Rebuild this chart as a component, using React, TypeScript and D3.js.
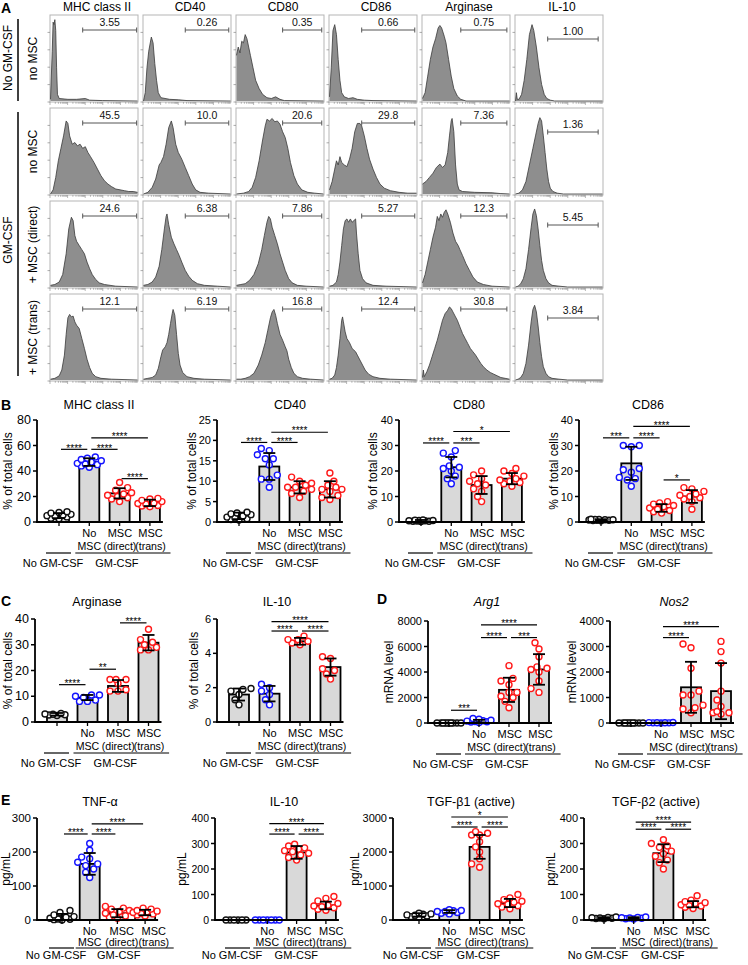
import React from "react";
import * as d3 from "d3";

const FONT = "'Liberation Sans', Arial, Helvetica, sans-serif";

/* ================= Panel A : flow histograms ================= */
const histMarkers = ["MHC class II", "CD40", "CD80", "CD86", "Arginase", "IL-10"];
const histRowLabels = ["no MSC", "no MSC", "+ MSC (direct)", "+ MSC (trans)"];
const gateNoGM = ["3.55", "0.26", "0.35", "0.66", "0.75", "1.00"];
const gateGM = ["45.5", "10.0", "20.6", "29.8", "7.36", "1.36"];
const gateDirect = ["24.6", "6.38", "7.86", "5.27", "12.3", "5.45"];
const gateTrans = ["12.1", "6.19", "16.8", "12.4", "30.8", "3.84"];
const gateStart = [37, 48, 53, 37, 44, 37];
const gateEnd = [99, 98, 98, 98, 97, 95];

type P = [number, number];
// [% of axis width, % of max height]
const histNoGM: P[][] = [
  [[0,2],[2,60],[3,95],[4,92],[5,98],[6,85],[7,40],[8,8],[10,3],[20,2],[30,2],[40,3],[45,1],[60,0.5],[100,0]],
  [[0,0],[2,10],[4,40],[6,60],[9,77],[11,70],[13,45],[15,25],[17,10],[20,4],[30,2],[40,1.5],[50,0.5],[100,0]],
  [[0,55],[2,65],[4,58],[6,72],[8,70],[10,80],[12,75],[14,65],[16,55],[19,40],[22,25],[26,15],[30,8],[35,4],[40,3],[45,5],[50,2],[55,0.5],[100,0]],
  [[0,5],[2,40],[4,85],[6,92],[8,80],[10,50],[12,25],[14,10],[17,5],[22,3],[27,4],[32,2],[40,1],[50,0.5],[100,0]],
  [[0,3],[3,10],[6,30],[9,50],[12,65],[15,75],[18,88],[20,91],[22,88],[25,78],[27,70],[30,50],[33,30],[36,15],[40,6],[44,2],[50,0],[100,0]],
  [[0,0],[1,10],[2,2],[4,2],[7,8],[10,25],[13,50],[16,80],[19,92],[21,85],[24,65],[27,40],[30,20],[33,8],[36,3],[40,1],[45,0],[100,0]],
];
const histGM: P[][] = [
  [[0,0],[3,5],[6,20],[9,40],[12,55],[15,70],[18,88],[20,85],[22,70],[25,60],[28,62],[31,58],[34,60],[37,55],[40,57],[43,50],[46,45],[50,38],[54,30],[58,22],[62,16],[66,12],[70,9],[75,6],[80,5],[85,4],[90,3],[95,3],[100,2]],
  [[0,0],[5,2],[10,8],[14,18],[18,35],[20,38],[23,45],[26,60],[29,80],[32,88],[34,80],[37,60],[40,50],[44,42],[48,32],[52,22],[56,12],[60,5],[65,2],[75,1],[100,0]],
  [[0,0],[8,1],[14,3],[18,8],[22,20],[26,40],[30,65],[33,82],[35,90],[38,88],[41,91],[44,87],[47,88],[50,84],[53,75],[56,68],[59,55],[62,38],[66,22],[70,12],[75,5],[82,2],[90,1],[100,0]],
  [[0,5],[3,15],[6,30],[8,40],[10,35],[12,45],[14,38],[17,35],[20,33],[23,42],[26,55],[29,75],[32,85],[35,85],[37,82],[40,70],[43,55],[46,42],[50,30],[54,20],[58,12],[63,7],[70,4],[80,2],[90,1],[100,1]],
  [[0,12],[4,15],[8,20],[12,25],[16,32],[20,36],[23,32],[26,35],[29,50],[31,70],[33,88],[34,91],[36,75],[38,35],[40,12],[42,5],[46,3],[60,2],[80,1.5],[90,0.5],[100,0]],
  [[0,0],[4,1],[8,5],[12,15],[16,35],[20,55],[23,70],[26,85],[28,92],[30,88],[32,70],[34,50],[36,30],[38,15],[40,7],[43,3],[48,1],[55,0],[100,0]],
];
const histDirect: P[][] = [
  [[0,2],[5,3],[10,6],[14,15],[18,40],[21,70],[24,84],[26,80],[28,62],[30,55],[33,50],[36,45],[39,40],[42,30],[45,22],[48,15],[52,9],[56,5],[62,3],[75,1],[100,0]],
  [[0,2],[5,3],[10,6],[14,12],[18,25],[21,45],[24,70],[26,85],[27,88],[29,75],[32,60],[35,52],[38,45],[41,38],[44,30],[48,20],[52,13],[56,8],[62,4],[70,2],[85,1],[100,0]],
  [[0,2],[5,3],[10,4],[15,8],[20,15],[25,28],[29,45],[32,62],[35,78],[37,85],[39,82],[41,72],[44,62],[47,52],[50,40],[53,30],[56,20],[60,10],[64,5],[70,2],[80,1],[100,0]],
  [[0,1],[4,2],[8,6],[10,15],[12,30],[14,50],[16,70],[18,80],[20,82],[22,78],[24,82],[26,78],[28,80],[30,82],[31,65],[33,40],[35,20],[38,10],[42,5],[50,2],[65,1],[100,0]],
  [[0,5],[3,15],[6,30],[9,45],[12,60],[15,72],[17,85],[19,80],[21,88],[23,84],[25,90],[27,93],[29,88],[32,78],[35,65],[38,55],[41,50],[43,45],[46,38],[50,28],[54,20],[58,12],[63,6],[70,3],[80,1],[100,0]],
  [[0,0],[3,1],[6,4],[9,10],[12,22],[15,45],[18,72],[20,88],[22,94],[24,86],[26,70],[28,50],[30,32],[32,20],[35,10],[38,5],[42,2],[50,1],[60,0],[100,0]],
];
const histTrans: P[][] = [
  [[0,1],[5,2],[10,5],[13,12],[16,30],[18,55],[20,75],[22,79],[24,76],[26,77],[28,70],[30,66],[33,62],[36,50],[39,38],[42,25],[45,15],[48,8],[52,4],[58,2],[70,1],[100,0]],
  [[0,1],[5,2],[10,3],[14,6],[17,14],[20,28],[22,36],[25,40],[27,45],[29,55],[31,68],[33,80],[34,85],[36,78],[38,55],[40,32],[42,18],[45,9],[50,4],[58,2],[70,1],[100,0]],
  [[0,1],[5,1],[10,2],[15,4],[20,8],[25,18],[29,30],[33,45],[36,60],[39,75],[41,82],[43,85],[45,78],[47,68],[50,55],[53,48],[56,40],[58,35],[60,25],[63,15],[66,8],[70,4],[76,2],[85,1],[100,0]],
  [[0,1],[3,2],[6,6],[8,15],[10,30],[12,50],[14,72],[15,76],[16,70],[18,58],[20,50],[23,45],[26,38],[28,36],[30,34],[32,30],[35,24],[38,18],[41,12],[45,7],[50,4],[58,2],[70,1],[100,0]],
  [[0,3],[1,12],[2,4],[5,10],[8,18],[11,28],[14,38],[17,48],[20,60],[23,72],[26,80],[29,84],[31,88],[33,86],[35,82],[38,76],[40,72],[43,64],[46,56],[49,50],[52,44],[55,38],[58,34],[61,30],[64,25],[67,20],[70,16],[74,12],[78,9],[82,7],[86,5],[90,3],[95,2],[100,1]],
  [[0,0],[3,1],[6,3],[9,8],[12,20],[15,42],[18,70],[20,85],[22,90],[24,82],[26,65],[28,45],[30,28],[32,16],[35,8],[38,4],[42,2],[50,1],[60,0],[100,0]],
];
const histRows = [histNoGM, histGM, histDirect, histTrans];
const gateRows = [gateNoGM, gateGM, gateDirect, gateTrans];

/* ================= Bar-chart data ================= */
const catLine1 = ["", "No", "MSC", "MSC"];
const catLine2 = ["", "MSC", "(direct)", "(trans)"];
const groupKeys = ["noGM", "noMSC", "direct", "trans"];
const pointColors = ["#111111", "#1414ff", "#ff1a1a", "#ff1a1a"];

type Sig = [number, number, number, string];

// B: MHC class II
const mhcMeans = [5, 47, 22.5, 15];
const mhcSD = [2, 3, 4, 2.5];
const mhcPts = [
  [2.5, 3, 4, 4.5, 5, 5.5, 6, 7, 7.5, 8],
  [43, 44, 45, 45.5, 46, 47, 48, 49, 50, 51],
  [16, 18, 19, 20, 21, 22, 23, 25, 27, 31],
  [12, 12.5, 13, 14, 14.5, 15, 16, 17, 18, 18.5],
];
const mhcSig: Sig[] = [[0, 1, 57, "****"], [1, 2, 57, "****"], [1, 3, 66, "****"], [2, 3, 34, "****"]];
// B: CD40
const cd40Means = [1.5, 13.6, 8.5, 8];
const cd40SD = [0.8, 3.3, 1.5, 2];
const cd40Pts = [
  [0.5, 0.6, 0.8, 1, 1.2, 1.5, 1.8, 2, 2.2, 2.4],
  [8.5, 10.5, 10.5, 11.5, 14, 15.5, 15.5, 16.5, 17.5, 18],
  [6, 7, 7.5, 8, 8.5, 8.5, 9, 9.5, 10, 11],
  [5.5, 6, 6.5, 7.5, 8, 8, 8.5, 9, 10, 12],
];
const cd40Sig: Sig[] = [[0, 1, 19.5, "****"], [1, 2, 19.5, "****"], [1, 3, 22, "****"]];
// B: CD80
const cd80Means = [0.5, 21.5, 14.5, 17];
const cd80SD = [0.3, 4, 3.5, 2.2];
const cd80Pts = [
  [0.2, 0.3, 0.3, 0.4, 0.5, 0.5, 0.6, 0.6, 0.7, 0.8],
  [15, 17, 18, 20, 21, 21.5, 22, 25.5, 27, 28],
  [8, 10, 12, 13, 14.5, 15, 16, 17, 18.5, 20],
  [14, 15, 15.5, 16, 16.5, 17, 18, 19, 20, 21],
];
const cd80Sig: Sig[] = [[0, 1, 31, "****"], [1, 2, 31, "***"], [1, 3, 35.5, "*"]];
// B: CD86
const cd86Means = [0.8, 23, 5.5, 10];
const cd86SD = [0.3, 6.5, 1.5, 2.5];
const cd86Pts = [
  [0.5, 0.6, 0.7, 0.7, 0.8, 0.9, 0.9, 1, 1, 1.1],
  [14, 16.5, 17, 17.5, 19.5, 20.5, 21, 29.5, 30, 30],
  [3.5, 4, 4.5, 5, 5.5, 6, 6.5, 7, 7.5, 8],
  [5, 8, 9, 9.5, 10, 10.5, 11, 12, 13, 13.5],
];
const cd86Sig: Sig[] = [[0, 1, 33, "***"], [1, 2, 33, "****"], [1, 3, 37.5, "****"], [2, 3, 16.5, "*"]];
// C: Arginase
const argMeans = [3, 9.5, 14, 30.8];
const argSD = [0.5, 1, 2.3, 3];
const argPts = [
  [2.5, 2.7, 2.8, 3, 3.1, 3.3],
  [8, 8, 8.5, 9.5, 10, 10.5, 10.5],
  [12, 12, 12.5, 15, 16.5, 16.5, 16.5],
  [28, 28, 29, 30, 31, 32, 36],
];
const argSig: Sig[] = [[0, 1, 14.5, "****"], [1, 2, 20.5, "**"], [2, 3, 38.5, "****"]];
// C: IL-10 (flow)
const il10fMeans = [1.6, 1.65, 4.7, 3.2];
const il10fSD = [0.35, 0.45, 0.2, 0.5];
const il10fPts = [
  [1.0, 1.3, 1.6, 1.8, 1.9, 1.95],
  [1.0, 1.3, 1.6, 1.8, 2.0, 2.2],
  [4.5, 4.6, 4.7, 4.8, 4.8, 5.0],
  [2.5, 2.8, 3.0, 3.1, 3.7, 3.8],
];
const il10fSig: Sig[] = [[1, 2, 5.3, "****"], [2, 3, 5.3, "****"], [1, 3, 5.85, "****"]];
// D: Arg1
const arg1Means = [0, 150, 2600, 4200];
const arg1SD = [10, 100, 950, 1200];
const arg1Pts = [
  [0, 0, 0, 0, 0, 0, 0, 0, 0, 0],
  [30, 80, 100, 120, 150, 180, 220, 300, 350],
  [1200, 1700, 2000, 2100, 2400, 2400, 3000, 3300, 3500, 4500],
  [2400, 2700, 3300, 4000, 4200, 4300, 4400, 5200, 5800, 6300],
];
const arg1Sig: Sig[] = [[0, 1, 1000, "***"], [1, 2, 6700, "****"], [2, 3, 6700, "***"], [1, 3, 7700, "****"]];
// D: Nos2
const nos2Means = [0, 10, 1400, 1250];
const nos2SD = [5, 10, 1000, 1100];
const nos2Pts = [
  [0, 0, 0, 0, 0, 0, 0, 0, 0, 0],
  [0, 5, 10, 15, 20, 10, 5],
  [400, 550, 600, 700, 1100, 1100, 1250, 2150, 2950, 3100],
  [350, 400, 400, 450, 650, 900, 1250, 2350, 2800, 3200],
];
const nos2Sig: Sig[] = [[1, 2, 3350, "****"], [1, 3, 3780, "****"]];
// E: TNF-α
const tnfMeans = [8, 165, 20, 22];
const tnfSD = [10, 32, 12, 8];
const tnfPts = [
  [0, 1, 2, 3, 5, 8, 10, 15, 22, 28],
  [125, 140, 150, 160, 165, 170, 180, 185, 205, 225],
  [5, 8, 12, 15, 20, 25, 28, 32, 35, 40],
  [12, 15, 18, 20, 22, 24, 26, 28, 32, 35],
];
const tnfSig: Sig[] = [[0, 1, 253, "****"], [1, 2, 253, "****"], [1, 3, 283, "****"]];
// E: IL-10 (ELISA)
const il10eMeans = [0, 0, 265, 57];
const il10eSD = [0, 0, 25, 15];
const il10ePts = [
  [0, 0, 0, 0, 0, 0],
  [0, 0, 0, 0, 0, 0, 0],
  [235, 245, 255, 262, 268, 272, 278, 283, 290, 297],
  [38, 42, 48, 52, 55, 58, 65, 75, 85, 92],
];
const il10eSig: Sig[] = [[1, 2, 337, "****"], [2, 3, 337, "****"], [1, 3, 378, "****"]];
// E: TGF-β1
const tgf1Means = [150, 250, 2150, 500];
const tgf1SD = [50, 40, 350, 120];
const tgf1Pts = [
  [80, 100, 120, 140, 150, 170, 180, 200],
  [180, 200, 220, 250, 250, 270, 280, 300],
  [1550, 1650, 1800, 2000, 2150, 2300, 2500, 2500, 2550, 2600],
  [330, 380, 420, 460, 480, 520, 550, 600, 650, 750],
];
const tgf1Sig: Sig[] = [[1, 2, 2735, "****"], [2, 3, 2735, "****"], [1, 3, 3030, "*"]];
// E: TGF-β2
const tgf2Means = [8, 8, 262, 62];
const tgf2SD = [3, 3, 35, 12];
const tgf2Pts = [
  [5, 6, 7, 8, 9, 10, 12],
  [4, 5, 7, 8, 9, 10, 12],
  [200, 225, 235, 250, 260, 270, 285, 290, 300, 315],
  [45, 50, 55, 58, 60, 65, 68, 72, 78, 95],
];
const tgf2Sig: Sig[] = [[1, 2, 356, "****"], [2, 3, 356, "****"], [1, 3, 384, "****"]];

const ticks80 = [0, 20, 40, 60, 80];
const ticks25 = [0, 5, 10, 15, 20, 25];
const ticks40 = [0, 10, 20, 30, 40];
const ticks6 = [0, 2, 4, 6];
const ticks8000 = [0, 2000, 4000, 6000, 8000];
const ticks4000 = [0, 1000, 2000, 3000, 4000];
const ticks300 = [0, 100, 200, 300];
const ticks400 = [0, 100, 200, 300, 400];
const ticks3000 = [0, 1000, 2000, 3000];

/* ================= Layout ================= */
type Cfg = {
  title: string; italic?: boolean; yLabel: string;
  means: number[]; sds: number[]; pts: number[][]; sig: Sig[]; ticks: number[];
  axisX: number; y0: number; yTop: number; titleX: number; titleY: number; yLabelX: number;
  firstDx: number; step: number; tickFont: number; labelStep: number;
  l1: number; l2: number; gl: number; gt: number;
};
const rowB = { y0: 522, yTop: 420, titleY: 409, l1: 15, l2: 28, gl: 31, gt: 45, labelStep: 30.6 };
const rowC = { y0: 722, yTop: 619, titleY: 606, l1: 15, l2: 28, gl: 31, gt: 45, labelStep: 30.8 };
const rowE = { y0: 920, yTop: 818, titleY: 806, l1: 15, l2: 26, gl: 28, gt: 39, labelStep: 32 };

const charts: Cfg[] = [
  { ...rowB, title: "MHC class II", yLabel: "% of total cells", means: mhcMeans, sds: mhcSD, pts: mhcPts, sig: mhcSig, ticks: ticks80, axisX: 37, titleX: 99, yLabelX: 12, firstDx: 22, step: 30.3, tickFont: 12.5 },
  { ...rowB, title: "CD40", yLabel: "% of total cells", means: cd40Means, sds: cd40SD, pts: cd40Pts, sig: cd40Sig, ticks: ticks25, axisX: 217, titleX: 290, yLabelX: 196, firstDx: 22, step: 30.3, tickFont: 11 },
  { ...rowB, title: "CD80", yLabel: "% of total cells", means: cd80Means, sds: cd80SD, pts: cd80Pts, sig: cd80Sig, ticks: ticks40, axisX: 399, titleX: 469, yLabelX: 377, firstDx: 22, step: 30.3, tickFont: 11 },
  { ...rowB, title: "CD86", yLabel: "% of total cells", means: cd86Means, sds: cd86SD, pts: cd86Pts, sig: cd86Sig, ticks: ticks40, axisX: 579, titleX: 648, yLabelX: 558, firstDx: 22, step: 30.3, tickFont: 11 },
  { ...rowC, title: "Arginase", yLabel: "% of total cells", means: argMeans, sds: argSD, pts: argPts, sig: argSig, ticks: ticks40, axisX: 35, titleX: 97, yLabelX: 12, firstDx: 22, step: 30.5, tickFont: 12.5 },
  { ...rowC, title: "IL-10", yLabel: "% of total cells", means: il10fMeans, sds: il10fSD, pts: il10fPts, sig: il10fSig, ticks: ticks6, axisX: 217, titleX: 277, yLabelX: 198, firstDx: 22, step: 30.5, tickFont: 11 },
  { ...rowC, y0: 723, yTop: 621, title: "Arg1", italic: true, yLabel: "mRNA level", means: arg1Means, sds: arg1SD, pts: arg1Pts, sig: arg1Sig, ticks: ticks8000, axisX: 428, titleX: 487, yLabelX: 393, firstDx: 21, step: 30, tickFont: 11 },
  { ...rowC, y0: 723, yTop: 621, title: "Nos2", italic: true, yLabel: "mRNA level", means: nos2Means, sds: nos2SD, pts: nos2Pts, sig: nos2Sig, ticks: ticks4000, axisX: 610, titleX: 674, yLabelX: 576, firstDx: 21, step: 30, tickFont: 11 },
  { ...rowE, title: "TNF-α", yLabel: "pg/mL", means: tnfMeans, sds: tnfSD, pts: tnfPts, sig: tnfSig, ticks: ticks300, axisX: 37, titleX: 100, yLabelX: 10, firstDx: 25, step: 27.7, tickFont: 11.5 },
  { ...rowE, title: "IL-10", yLabel: "pg/mL", means: il10eMeans, sds: il10eSD, pts: il10ePts, sig: il10eSig, ticks: ticks400, axisX: 215, titleX: 284, yLabelX: 186, firstDx: 23, step: 29.3, tickFont: 10.5 },
  { ...rowE, title: "TGF-β1 (active)", yLabel: "pg/mL", means: tgf1Means, sds: tgf1SD, pts: tgf1Pts, sig: tgf1Sig, ticks: ticks3000, axisX: 393, titleX: 471, yLabelX: 359, firstDx: 26, step: 30.3, tickFont: 11 },
  { ...rowE, title: "TGF-β2 (active)", yLabel: "pg/mL", means: tgf2Means, sds: tgf2SD, pts: tgf2Pts, sig: tgf2Sig, ticks: ticks400, axisX: 584, titleX: 656, yLabelX: 555, firstDx: 20, step: 29.7, tickFont: 11 },
];

/* ================= Helpers ================= */
const R = 3;
function swarm(vals: number[], y: (v: number) => number, cx: number) {
  const placed: { x: number; y: number }[] = [];
  const cands = [0, -4, 4, -8, 8, -12, 12, -2, 2, -6, 6, -10, 10];
  const sorted = [...vals].sort((a, b) => a - b);
  for (const v of sorted) {
    const py = y(v);
    let best = 0, bestD = -1;
    for (const c of cands) {
      let md = Infinity;
      for (const p of placed) md = Math.min(md, Math.hypot(p.x - (cx + c), p.y - py));
      if (md >= 2 * R + 0.4) { best = c; bestD = Infinity; break; }
      if (md > bestD) { bestD = md; best = c; }
    }
    placed.push({ x: cx + best, y: py });
  }
  return placed;
}

function BarChart({ c }: { c: Cfg }) {
  const yMax = c.ticks[c.ticks.length - 1];
  const y = d3.scaleLinear().domain([0, yMax]).range([c.y0, c.yTop]);
  const x = d3.scalePoint<string>().domain(groupKeys).range([c.axisX + c.firstDx, c.axisX + c.firstDx + 3 * c.step]);
  const bw = 20;
  const xs = groupKeys.map((k) => x(k) as number);
  const xEnd = xs[3] + 13;
  const lx = xs.map((px, i) => (i === 0 ? px : xs[1] + (i - 1) * c.labelStep));
  const midY = (c.y0 + c.yTop) / 2;
  return (
    <g fontFamily={FONT}>
      <text x={c.titleX} y={c.titleY} fontSize={12.5} textAnchor="middle" fontStyle={c.italic ? "italic" : "normal"}>{c.title}</text>
      <text transform={`translate(${c.yLabelX},${midY}) rotate(-90)`} fontSize={12} textAnchor="middle">{c.yLabel}</text>
      {c.means.map((m, i) => (
        <rect key={"b" + i} x={xs[i] - bw / 2} y={y(m)} width={bw} height={Math.max(0, c.y0 - y(m))} fill="#d9d9d9" stroke="#000" strokeWidth={1.8} />
      ))}
      {c.pts.map((g, i) =>
        swarm(g, y, xs[i]).map((p, j) => (
          <circle key={`p${i}-${j}`} cx={p.x} cy={p.y} r={R} fill="#fff" stroke={pointColors[i]} strokeWidth={1.4} />
        ))
      )}
      {c.means.map((m, i) => {
        if (c.sds[i] <= 0) return null;
        const lo = y(Math.max(0, m - c.sds[i]));
        const hi = y(m + c.sds[i]);
        return (
          <g key={"e" + i} stroke="#000" strokeWidth={1.8}>
            <line x1={xs[i]} x2={xs[i]} y1={lo} y2={hi} />
            <line x1={xs[i] - 6} x2={xs[i] + 6} y1={hi} y2={hi} />
            <line x1={xs[i] - 6} x2={xs[i] + 6} y1={lo} y2={lo} />
          </g>
        );
      })}
      <line x1={c.axisX} x2={c.axisX} y1={c.y0 + 0.9} y2={c.yTop} stroke="#000" strokeWidth={1.8} />
      <line x1={c.axisX - 0.9} x2={xEnd} y1={c.y0} y2={c.y0} stroke="#000" strokeWidth={1.8} />
      {c.ticks.map((t) => (
        <g key={"t" + t}>
          <line x1={c.axisX - 4} x2={c.axisX} y1={y(t)} y2={y(t)} stroke="#000" strokeWidth={1.5} />
          <text x={c.axisX - 6} y={y(t) + 4} fontSize={c.tickFont} textAnchor="end">{t}</text>
        </g>
      ))}
      {xs.map((px, i) => (
        <line key={"xt" + i} x1={px} x2={px} y1={c.y0} y2={c.y0 + 4} stroke="#000" strokeWidth={1.3} />
      ))}
      {lx.map((px, i) => (
        <g key={"cl" + i} fontSize={11} textAnchor="middle">
          <text x={px} y={c.y0 + c.l1}>{catLine1[i]}</text>
          <text x={px} y={c.y0 + c.l2} fontSize={10.6}>{catLine2[i]}</text>
        </g>
      ))}
      <line x1={xs[0] - 13} x2={xs[0] + 12} y1={c.y0 + c.gl} y2={c.y0 + c.gl} stroke="#000" strokeWidth={1.2} />
      <line x1={xs[1] - 14} x2={lx[3] + 20} y1={c.y0 + c.gl} y2={c.y0 + c.gl} stroke="#000" strokeWidth={1.2} />
      <text x={xs[0] - 6} y={c.y0 + c.gt} fontSize={11} textAnchor="middle">No GM-CSF</text>
      <text x={lx[2] - 3} y={c.y0 + c.gt} fontSize={11} textAnchor="middle">GM-CSF</text>
      {c.sig.map(([a, b, v, s], k) => (
        <g key={"s" + k}>
          <line x1={xs[a] + 2} x2={xs[b] - 2} y1={y(v)} y2={y(v)} stroke="#000" strokeWidth={1.2} />
          <text x={(xs[a] + xs[b]) / 2} y={y(v) + 2.2} fontSize={10} textAnchor="middle">{s}</text>
        </g>
      ))}
    </g>
  );
}

function Histo({ data, x0, y0, w, h, gate, col }: { data: P[]; x0: number; y0: number; w: number; h: number; gate: string; col: number }) {
  const x = d3.scaleLinear().domain([0, 100]).range([x0 + 0.5, x0 + w - 0.5]);
  const y = d3.scaleLinear().domain([0, 100]).range([y0 + h - 1, y0 + 3]);
  const area = d3.area<P>().x((d) => x(d[0])).y0(y(0)).y1((d) => y(d[1]));
  const line = d3.line<P>().x((d) => x(d[0])).y((d) => y(d[1]));
  const gy = y0 + (col === 5 ? 24 : 15);
  const gx1 = x(gateStart[col]);
  const gx2 = x(gateEnd[col]);
  const decades = [0, 1, 2, 3, 4];
  const minor = [1, 2, 3, 4, 5, 6, 7, 8, 9];
  return (
    <g>
      <rect x={x0} y={y0} width={w} height={h} fill="#fff" stroke="#b5b5b5" strokeWidth={1} />
      {[0, 0.2, 0.4, 0.6, 0.8].map((f) => (
        <line key={"l" + f} x1={x0 - 2.5} x2={x0} y1={y0 + h - f * h} y2={y0 + h - f * h} stroke="#888" strokeWidth={0.7} />
      ))}
      {decades.map((d) =>
        minor.map((k) => {
          const px = x0 + ((d + Math.log10(k)) / 5) * w;
          return <line key={`m${d}-${k}`} x1={px} x2={px} y1={y0 + h} y2={y0 + h + (k === 1 ? 3 : 1.8)} stroke="#888" strokeWidth={0.6} />;
        })
      )}
      <path d={area(data) as string} fill="#8e8e8e" />
      <path d={line(data) as string} fill="none" stroke="#3a3a3a" strokeWidth={0.8} />
      <g stroke="#555" strokeWidth={1}>
        <line x1={gx1} x2={gx2} y1={gy} y2={gy} />
        <line x1={gx1} x2={gx1} y1={gy - 2.5} y2={gy + 2.5} />
        <line x1={gx2} x2={gx2} y1={gy - 2.5} y2={gy + 2.5} />
      </g>
      <text x={(gx1 + gx2) / 2} y={gy - 4} fontSize={10.5} textAnchor="middle" fontFamily={FONT} fill="#111">{gate}</text>
    </g>
  );
}

function PanelA() {
  const colX = (c: number) => 50 + c * 93;
  const rowY = (r: number) => 15 + r * 93;
  const w = 88, h = 87;
  return (
    <g fontFamily={FONT}>
      {histMarkers.map((m, c) => (
        <text key={m + c} x={colX(c) + w / 2 + 3} y={11} fontSize={12} textAnchor="middle">{m}</text>
      ))}
      {histRows.map((row, r) =>
        row.map((d, c) => (
          <Histo key={`h${r}-${c}`} data={d} x0={colX(c)} y0={rowY(r)} w={w} h={h} gate={gateRows[r][c]} col={c} />
        ))
      )}
      {histRowLabels.map((lab, r) => (
        <text key={"rl" + r} transform={`translate(37,${rowY(r) + h / 2}) rotate(-90)`} fontSize={12} textAnchor="middle">{lab}</text>
      ))}
      <line x1={18} x2={18} y1={19} y2={101} stroke="#000" strokeWidth={1.5} />
      <line x1={18} x2={18} y1={112} y2={376} stroke="#000" strokeWidth={1.5} />
      <text transform={`translate(12,58) rotate(-90)`} fontSize={12} textAnchor="middle">No GM-CSF</text>
      <text transform={`translate(12,240) rotate(-90)`} fontSize={12} textAnchor="middle">GM-CSF</text>
    </g>
  );
}

const panelLetters: [string, number, number][] = [["A", 1, 13], ["B", 1, 410], ["C", 1, 606], ["D", 377, 604], ["E", 1, 805]];

export default function App() {
  return (
    <svg width={748} height={965} style={{ position: "absolute", left: 0, top: 0, background: "#fff" }}>
      <rect x={0} y={0} width={748} height={965} fill="#fff" />
      <PanelA />
      {charts.map((c, i) => (
        <BarChart key={i} c={c} />
      ))}
      {panelLetters.map(([l, px, py]) => (
        <text key={l} x={px} y={py} fontSize={14} fontWeight="bold" fontFamily={FONT}>{l}</text>
      ))}
    </svg>
  );
}
